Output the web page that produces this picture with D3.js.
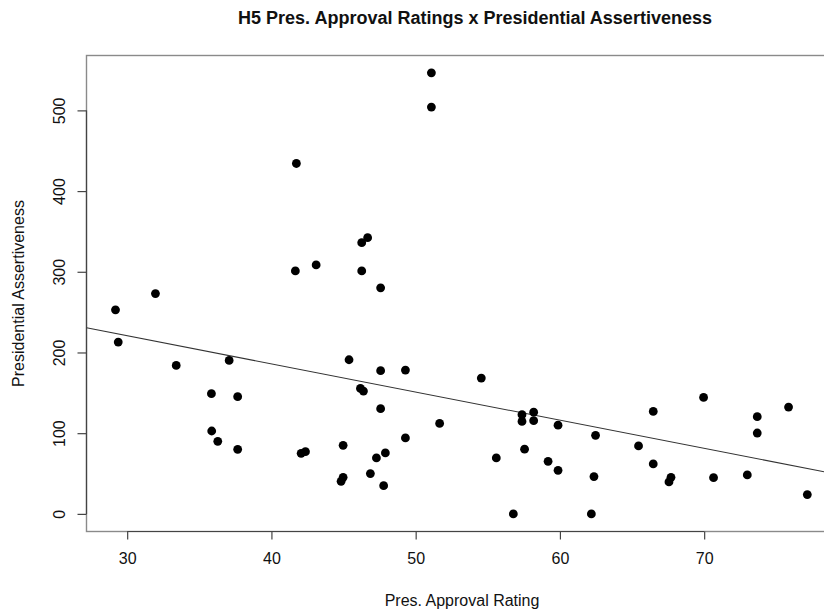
<!DOCTYPE html>
<html>
<head>
<meta charset="utf-8">
<script src="https://cdn.jsdelivr.net/npm/d3@7"></script>
<style>
  html, body { margin: 0; padding: 0; background: #fff; overflow: hidden; }
  text { font-family: "Liberation Sans", Arial, Helvetica, sans-serif; fill: #111; }
</style>
</head>
<body>
<svg id="chart" width="824" height="613"></svg>
<script>
// Presidential approval rating (%) for each observation
const approval = [
  29.19, 29.38, 31.96, 33.40, 35.84, 37.07, 37.66, 35.86, 36.28, 37.66,
  41.73, 41.66, 42.06, 42.36, 43.10, 44.97, 44.97, 44.83, 45.38, 46.17,
  46.38, 46.26, 46.67, 46.26, 47.57, 47.57, 47.57, 47.28, 47.90, 46.86,
  47.78, 49.29, 49.29, 51.09, 51.09, 51.66, 54.55, 55.59, 56.77, 57.37,
  57.37, 57.55, 58.18, 58.18, 59.18, 59.87, 59.87, 62.18, 62.36, 62.47,
  65.45, 66.47, 66.47, 67.70, 67.56, 69.96, 70.65, 72.99, 73.68, 73.68,
  75.85, 77.15
];
// Presidential assertiveness score for the same observations
const assertiveness = [
  252.8, 212.9, 273.0, 183.9, 148.9, 190.1, 145.2, 102.7, 89.9, 80.0,
  434.2, 301.1, 75.0, 77.1, 308.5, 84.9, 45.3, 40.3, 191.0, 155.4,
  152.2, 336.1, 342.3, 301.1, 280.1, 177.4, 130.3, 69.3, 75.5, 49.9,
  35.0, 178.2, 94.1, 546.5, 504.1, 112.1, 168.3, 69.3, 0.0, 122.9,
  114.6, 80.2, 126.0, 115.5, 65.1, 109.9, 54.0, 0.0, 46.2, 97.3,
  84.2, 127.0, 61.9, 45.3, 39.6, 144.3, 44.9, 48.3, 120.4, 100.2,
  132.4, 23.9
];
// Tick values
const xTicks = [30, 40, 50, 60, 70];
const yTicks = [0, 100, 200, 300, 400, 500];
// Fitted line: assertiveness = intercept + slope * approval
const fitIntercept = 325.5;
const fitSlope = -3.49;

const svg = d3.select("#chart");

// Plot region (right edge runs past the canvas)
const plot = { left: 86.5, right: 835, top: 55.5, bottom: 531.5 };

const x = d3.scaleLinear().domain([27.18, 79.07]).range([plot.left, plot.right]);
const y = d3.scaleLinear().domain([-21.84, 568.0]).range([plot.bottom, plot.top]);

// Title
svg.append("text")
  .attr("x", 475).attr("y", 24)
  .attr("text-anchor", "middle")
  .style("font-weight", "bold")
  .style("font-size", "18px")
  .text("H5 Pres. Approval Ratings x Presidential Assertiveness");

// Box around plot
svg.append("rect")
  .attr("x", plot.left).attr("y", plot.top)
  .attr("width", plot.right - plot.left).attr("height", plot.bottom - plot.top)
  .attr("fill", "none").attr("stroke", "#8a8a8a").attr("stroke-width", 1.4);

// X axis
const xAxis = svg.append("g")
  .attr("transform", `translate(0,${plot.bottom})`)
  .call(d3.axisBottom(x).tickValues(xTicks).tickSize(8).tickPadding(13).tickFormat(d3.format("d")));
xAxis.select(".domain")
  .attr("d", `M${x(xTicks[0])},0H${x(xTicks[xTicks.length - 1])}`)
  .attr("stroke", "#444").attr("stroke-width", 1.2);
xAxis.selectAll(".tick line").attr("stroke", "#444").attr("stroke-width", 1.2);
xAxis.selectAll(".tick text").style("font-size", "16px").attr("fill", "#111");

// Y axis (labels rotated, R style)
const yAxis = svg.append("g")
  .attr("transform", `translate(${plot.left},0)`)
  .call(d3.axisLeft(y).tickValues(yTicks).tickSize(9).tickFormat(d3.format("d")));
yAxis.select(".domain")
  .attr("d", `M0,${y(yTicks[0])}V${y(yTicks[yTicks.length - 1])}`)
  .attr("stroke", "#444").attr("stroke-width", 1.2);
yAxis.selectAll(".tick line").attr("stroke", "#444").attr("stroke-width", 1.2);
yAxis.selectAll(".tick text")
  .attr("x", null).attr("dy", null)
  .attr("text-anchor", "middle")
  .attr("transform", "translate(-22,0) rotate(-90)")
  .style("font-size", "16px").attr("fill", "#111");

// Axis titles
svg.append("text")
  .attr("x", 462).attr("y", 606)
  .attr("text-anchor", "middle")
  .style("font-size", "16px")
  .text("Pres. Approval Rating");

svg.append("text")
  .attr("transform", `translate(24,${(plot.top + plot.bottom) / 2}) rotate(-90)`)
  .attr("text-anchor", "middle")
  .style("font-size", "16px")
  .text("Presidential Assertiveness");

// Clip to plot region
svg.append("clipPath").attr("id", "plotClip")
  .append("rect")
  .attr("x", plot.left).attr("y", plot.top)
  .attr("width", plot.right - plot.left).attr("height", plot.bottom - plot.top);

// Regression line across full x range
const xd = x.domain();
svg.append("line")
  .attr("clip-path", "url(#plotClip)")
  .attr("x1", x(xd[0])).attr("y1", y(fitIntercept + fitSlope * xd[0]))
  .attr("x2", x(xd[1])).attr("y2", y(fitIntercept + fitSlope * xd[1]))
  .attr("stroke", "#333").attr("stroke-width", 1.1);

// Points
const points = approval.map((a, i) => ({ a, s: assertiveness[i] }));
svg.append("g").selectAll("circle")
  .data(points)
  .join("circle")
  .attr("cx", d => x(d.a))
  .attr("cy", d => y(d.s))
  .attr("r", 4.4)
  .attr("fill", "#000");
</script>
</body>
</html>
